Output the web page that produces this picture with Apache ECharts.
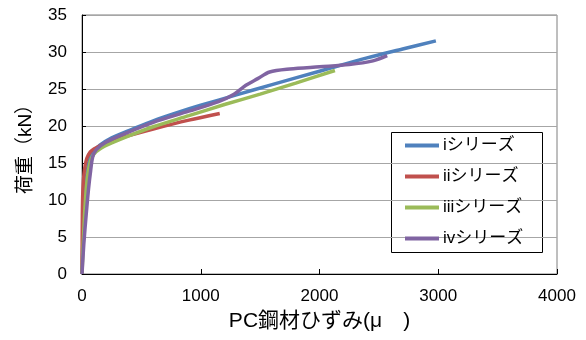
<!DOCTYPE html>
<html><head><meta charset="utf-8">
<script src="https://cdn.jsdelivr.net/npm/echarts@6/dist/echarts.min.js"></script>
<style>html,body{margin:0;padding:0;background:#fff}#c{width:586px;height:340px}</style>
</head><body><div id="c"></div>
<script>
var seriesNames = ['iシリーズ', 'iiシリーズ', 'iiiシリーズ', 'ivシリーズ'];
var seriesColors = ['#4F81BD', '#C0504D', '#9BBB59', '#8064A2'];
var yTicks = [0, 5, 10, 15, 20, 25, 30, 35];
var xTicks = [0, 1000, 2000, 3000, 4000];
var seriesI = [[0,0],[10,6],[25,11],[45,14],[70,15.8],[100,16.6],[150,17.4],[250,18.4],[400,19.4],[600,20.7],[800,21.8],[1000,22.8],[1300,24.2],[1600,25.6],[2000,27.4],[2400,29.2],[2700,30.4],[2980,31.5]];
var seriesII = [[0,0],[3,8],[8,11.5],[20,14],[40,15.6],[70,16.5],[100,16.9],[200,17.7],[350,18.5],[600,19.6],[900,20.8],[1160,21.7]];
var seriesIII = [[0,0],[10,4],[25,9],[45,13],[70,15.2],[100,16.2],[150,16.9],[250,17.7],[400,18.7],[600,19.9],[900,21.4],[1200,22.9],[1500,24.3],[1800,25.8],[2130,27.5]];
var seriesIV = [[0,0],[15,4],[35,8],[55,11.5],[73,14],[90,15.8],[120,16.8],[200,17.8],[350,18.9],[600,20.5],[900,22.0],[1150,23.3],[1280,24.3],[1380,25.5],[1480,26.4],[1580,27.3],[1750,27.7],[2000,28.0],[2250,28.3],[2450,28.8],[2570,29.5]];
var allData = [seriesI, seriesII, seriesIII, seriesIV];

var FF = "'Liberation Sans', 'Noto Sans CJK JP', sans-serif";
var chart = echarts.init(document.getElementById('c'), null, {renderer: 'canvas'});
chart.setOption({
  animation: false,
  backgroundColor: '#fff',
  grid: {left: 82, right: 29, top: 15, bottom: 66, show: true, borderColor: '#7f7f7f', borderWidth: 1, containLabel: false, outerBoundsMode: 'none'},
  xAxis: {
    type: 'value', min: xTicks[0], max: xTicks[xTicks.length-1], interval: 1000,
    name: 'PC鋼材ひずみ(μ\u3000)', nameLocation: 'middle', nameGap: 37,
    nameTextStyle: {fontSize: 21, color: '#000', fontFamily: FF},
    axisLine: {show: true, lineStyle: {color: '#000', width: 1}},
    axisTick: {show: true, inside: true, length: 5, lineStyle: {color: '#000'}},
    axisLabel: {fontSize: 17, color: '#000', margin: 14, fontFamily: FF, formatter: function(v){ return String(v); }},
    splitLine: {show: false}
  },
  yAxis: {
    type: 'value', min: yTicks[0], max: yTicks[yTicks.length-1], interval: 5,
    name: '荷重（kN）', nameLocation: 'middle', nameGap: 47, nameRotate: 90,
    nameTextStyle: {fontSize: 19, color: '#000', fontFamily: FF},
    axisLine: {show: true, lineStyle: {color: '#000', width: 1}},
    axisTick: {show: true, inside: true, length: 4, lineStyle: {color: '#000'}},
    axisLabel: {fontSize: 17, color: '#000', margin: 15, fontFamily: FF, formatter: function(v){ return String(v); }},
    splitLine: {show: true, lineStyle: {color: '#a6a6a6', width: 1}}
  },
  legend: {
    orient: 'vertical', left: 405, top: 137, itemWidth: 34, itemHeight: 4, itemGap: 14,
    icon: 'rect', padding: 0,
    textStyle: {fontSize: 17, color: '#000', fontFamily: FF, padding: [0,0,0,-1]},
    data: seriesNames
  },
  graphic: [{type: 'rect', left: 391, top: 132, shape: {width: 151, height: 120}, style: {fill: '#fff', stroke: '#000', lineWidth: 1}, z: 0, silent: true}],
  series: allData.map(function(d, i){
    return {name: seriesNames[i], type: 'line', data: d, showSymbol: false, symbol: 'none',
      smooth: 0.3, color: seriesColors[i], lineStyle: {width: 3.5, color: seriesColors[i]}, z: 2};
  })
});
</script></body></html>
